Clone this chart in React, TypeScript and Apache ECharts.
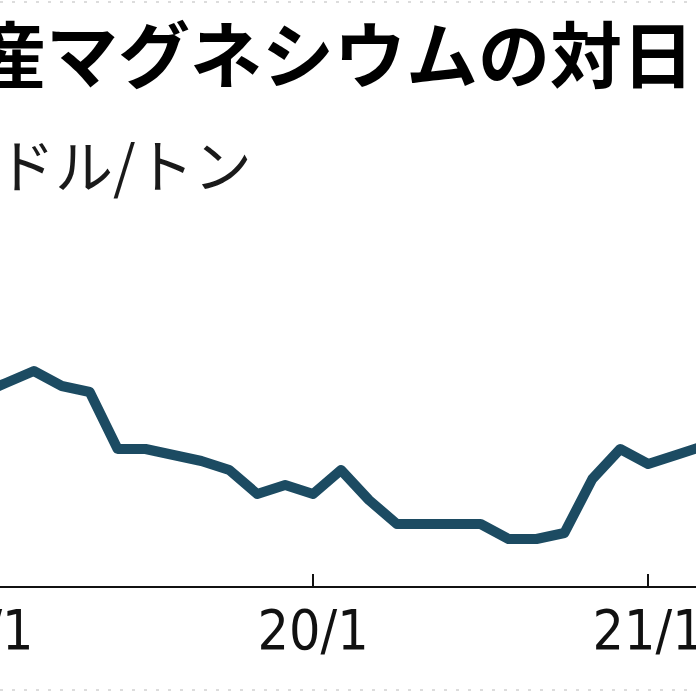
import { useEffect, useRef } from 'react'
import * as echarts from 'echarts'

// 月次 (19/1 〜 21/3)
const months = [
  '19/1', '19/2', '19/3', '19/4', '19/5', '19/6', '19/7', '19/8', '19/9', '19/10', '19/11', '19/12',
  '20/1', '20/2', '20/3', '20/4', '20/5', '20/6', '20/7', '20/8', '20/9', '20/10', '20/11', '20/12',
  '21/1', '21/2', '21/3',
]

// ドル/トン
const prices = [
  2440, 2480, 2520, 2470, 2450, 2260, 2260, 2240, 2220, 2190, 2110, 2140,
  2110, 2190, 2090, 2010, 2010, 2010, 2010, 1960, 1960, 1980, 2160, 2260,
  2210, 2240, 2270,
]

const titleText = '産マグネシウムの対日'
const unitText = 'ドル/トン'

const isJanuary = (v: string) => v.split('/')[1] === '1'

const App = () => {
  const chartRef = useRef<HTMLDivElement | null>(null)

  useEffect(() => {
    if (!chartRef.current) return
    const chart = echarts.init(chartRef.current, null, { renderer: 'svg' })

    const option = {
      animation: false,
      backgroundColor: '#ffffff',
      grid: {
        left: -22,
        right: -8,
        top: 137,
        bottom: 109,
        containLabel: false,
        outerBoundsMode: 'none',
      },
      xAxis: {
        type: 'category',
        data: months,
        boundaryGap: false,
        axisLine: { lineStyle: { color: '#111', width: 2 } },
        axisTick: {
          inside: true,
          length: 13,
          interval: (_i: number, v: string) => isJanuary(v),
          lineStyle: { color: '#111', width: 2 },
        },
        axisLabel: {
          interval: (_i: number, v: string) => isJanuary(v),
          color: '#111',
          fontSize: 55,
          fontFamily: "'Liberation Sans Narrow', 'DejaVu Sans Condensed', sans-serif",
          margin: 15,
        },
        splitLine: { show: false },
      },
      yAxis: {
        type: 'value',
        min: 1800,
        max: 3300,
        show: false,
      },
      graphic: [
        {
          type: 'text',
          left: -26,
          top: 14,
          style: {
            text: titleText,
            fill: '#000',
            font: "bold 72px 'Noto Sans CJK JP', sans-serif",
          },
        },
        {
          type: 'text',
          left: -3,
          top: 134,
          style: {
            text: unitText,
            fill: '#1a1a1a',
            font: "58px 'Noto Sans CJK JP', sans-serif",
          },
        },
        {
          type: 'line',
          shape: { x1: 0, y1: 2, x2: 696, y2: 2 },
          style: { stroke: '#dcdcdc', lineWidth: 2, lineDash: [3, 9] },
        },
        {
          type: 'line',
          shape: { x1: 0, y1: 690, x2: 696, y2: 690 },
          style: { stroke: '#dcdcdc', lineWidth: 2, lineDash: [3, 9] },
        },
      ],
      series: [
        {
          type: 'line',
          data: prices,
          symbol: 'none',
          lineStyle: { color: '#1c4b62', width: 10, join: 'round', cap: 'round' },
        },
      ],
    }

    chart.setOption(option)
    return () => chart.dispose()
  }, [])

  return (
    <div
      ref={chartRef}
      style={{ position: 'fixed', left: 0, top: 0, width: 696, height: 696, background: '#fff' }}
    />
  )
}

export default App
